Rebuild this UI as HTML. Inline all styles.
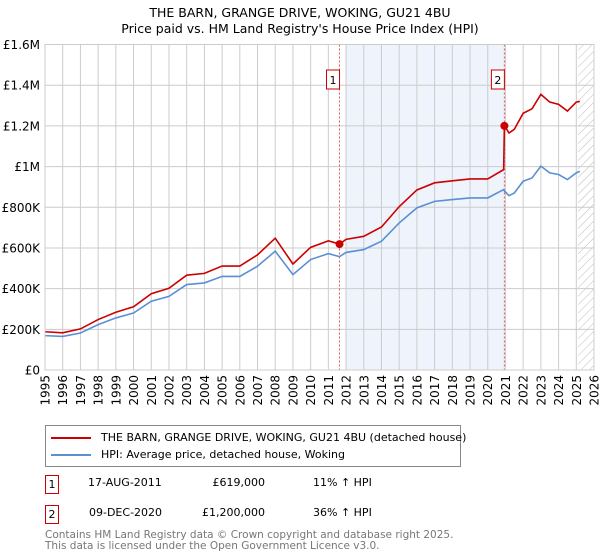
<!DOCTYPE html>
<html><head><meta charset="utf-8"><style>
body{margin:0;background:#fff;font-family:"Liberation Sans","DejaVu Sans",sans-serif;}
#wrap{position:relative;width:600px;height:560px;overflow:hidden}
</style></head><body>
<div id="wrap">
<svg id="chart" width="600" height="560" style="position:absolute;left:0;top:0;font-family:'DejaVu Sans','Liberation Sans',sans-serif">
<text x="300" y="17" text-anchor="middle" font-size="12.5">THE BARN, GRANGE DRIVE, WOKING, GU21 4BU</text>
<text x="300" y="33" text-anchor="middle" font-size="12.5">Price paid vs. HM Land Registry's House Price Index (HPI)</text>
<g id="grid"></g><g id="marks"></g>
</svg>
<div style="position:absolute;left:45px;top:425px;width:414px;height:40px;border:1px solid #888;font-size:11px;font-family:'DejaVu Sans',sans-serif">
<div style="position:absolute;left:5px;top:5px;white-space:nowrap"><span style="display:inline-block;width:40px;height:2px;background:#cc0000;vertical-align:middle;margin-right:10px"></span>THE BARN, GRANGE DRIVE, WOKING, GU21 4BU (detached house)</div>
<div style="position:absolute;left:5px;top:22px;white-space:nowrap"><span style="display:inline-block;width:40px;height:2px;background:#5b8fd4;vertical-align:middle;margin-right:10px"></span>HPI: Average price, detached house, Woking</div>
</div>
<div style="font-size:11px;font-family:'DejaVu Sans',sans-serif">
<div style="position:absolute;left:45px;top:475px;width:12px;height:17px;border:1px solid #cc0000;text-align:center;line-height:17px">1</div>
<div style="position:absolute;left:88px;top:476px">17-AUG-2011</div>
<div style="position:absolute;left:200px;top:476px;width:65px;text-align:right">£619,000</div>
<div style="position:absolute;left:313px;top:476px">11% ↑ HPI</div>
<div style="position:absolute;left:45px;top:505px;width:12px;height:17px;border:1px solid #cc0000;text-align:center;line-height:17px">2</div>
<div style="position:absolute;left:89px;top:506px">09-DEC-2020</div>
<div style="position:absolute;left:190px;top:506px;width:75px;text-align:right">£1,200,000</div>
<div style="position:absolute;left:313px;top:506px">36% ↑ HPI</div>
</div>
<div style="position:absolute;left:45px;top:530px;font-size:10.5px;line-height:11px;color:#777;font-family:'DejaVu Sans',sans-serif">Contains HM Land Registry data © Crown copyright and database right 2025.<br>This data is licensed under the Open Government Licence v3.0.</div>
</div>
<script>
const dates=[1995,1996,1997,1998,1999,2000,2001,2002,2003,2004,2005,2006,2007,2008,2009,2010,2011,2011.63,2012,2013,2014,2015,2016,2017,2018,2019,2020,2020.9,2020.94,2021.2,2021.5,2022,2022.5,2023,2023.5,2024,2024.5,2025,2025.2];
const hpiValues=[169,165,182,223,256,280,338,362,420,428,460,460,510,584,469,543,572,557,578,592,633,723,797,829,838,846,846,887,880,857,870,928,944,1002,969,961,936,969,977];
const propertyValues=[188,183,202,248,284,311,375,402,466,475,511,511,566,648,521,603,635,619,642,657,703,803,885,920,930,939,939,985,1200,1165,1183,1262,1284,1355,1317,1306,1273,1317,1320];
const saleDates=[2011.63,2020.94];
const salePrices=[619,1200];
const saleLabels=["1","2"];
const yTicks=[0,200,400,600,800,1000,1200,1400,1600];
const yTickLabels=["£0","£200K","£400K","£600K","£800K","£1M","£1.2M","£1.4M","£1.6M"];
const xTicks=[];for(let y=1995;y<=2026;y++)xTicks.push(y);

const X0=45,X1=594,Y0=370,Y1=44.5;
const xs=d=>X0+(d-1995)/(2026-1995)*(X1-X0);
const ys=v=>Y0-v/1600*(Y0-Y1);
const NS="http://www.w3.org/2000/svg";
const grid=document.getElementById('grid'),marks=document.getElementById('marks');
function mk(p,tag,a){const e=document.createElementNS(NS,tag);for(const k in a)e.setAttribute(k,a[k]);p.appendChild(e);return e;}
// shaded region & hatch
const sh=mk(grid,'rect',{x:xs(2012),y:Y1,width:xs(saleDates[1])-xs(2012),height:Y0-Y1,fill:'#eef3fc'});


const defs=mk(grid,'defs',{});
const pat=mk(defs,'pattern',{id:'hatch',width:6,height:6,patternUnits:'userSpaceOnUse',patternTransform:'rotate(45)'});
mk(pat,'line',{x1:0,y1:0,x2:0,y2:6,stroke:'#bbb','stroke-width':1});
const ht=mk(grid,'rect',{x:xs(2025.1),y:Y1,width:X1-xs(2025.1),height:Y0-Y1,fill:'url(#hatch)'});


yTicks.forEach((v,i)=>{
 const l=mk(grid,'line',{x1:X0,x2:X1,y1:ys(v),y2:ys(v),stroke:'#ccc','stroke-width':1});
 
 
 const t=mk(grid,'text',{x:X0-5,y:ys(v)+4.5,'text-anchor':'end','font-size':12});
 t.textContent=yTickLabels[i];
 
 
});
xTicks.forEach(y=>{
 const l=mk(grid,'line',{x1:xs(y),x2:xs(y),y1:Y1,y2:Y0,stroke:'#ccc','stroke-width':1});
 
 
 const t=mk(grid,'text',{x:0,y:0,'text-anchor':'end','font-size':12,transform:`translate(${xs(y)+4.5},${Y0+5}) rotate(-90)`});
 t.textContent=y;
 
 
});
saleDates.forEach((d,i)=>{
 const l=mk(marks,'line',{x1:xs(d),x2:xs(d),y1:Y1,y2:Y0,stroke:'#e05555','stroke-width':1,'stroke-dasharray':'2,2'});
 
 
 const b=mk(marks,'rect',{x:xs(d)-13,y:70,width:13,height:19,fill:'#fff',stroke:'#cc0000'});
 
 
 const t=mk(marks,'text',{x:xs(d)-6.5,y:84,'text-anchor':'middle','font-size':11});
 t.textContent=saleLabels[i];
 
 
});
const line=(vals,col,name)=>{
 const p=mk(marks,'polyline',{points:dates.map((d,i)=>xs(d)+','+ys(vals[i])).join(' '),fill:'none',stroke:col,'stroke-width':1.6});
 
 
};
line(hpiValues,'#5b8fd4','hpi-line');
line(propertyValues,'#cc0000','property-line');
saleDates.forEach((d,i)=>{
 const c=mk(marks,'circle',{cx:xs(d),cy:ys(salePrices[i]),r:4,fill:'#cc0000'});
 
 
});
const ax=mk(marks,'rect',{x:X0,y:Y1,width:X1-X0,height:Y0-Y1,fill:'none',stroke:'#ccc'});


</script>
</body></html>
